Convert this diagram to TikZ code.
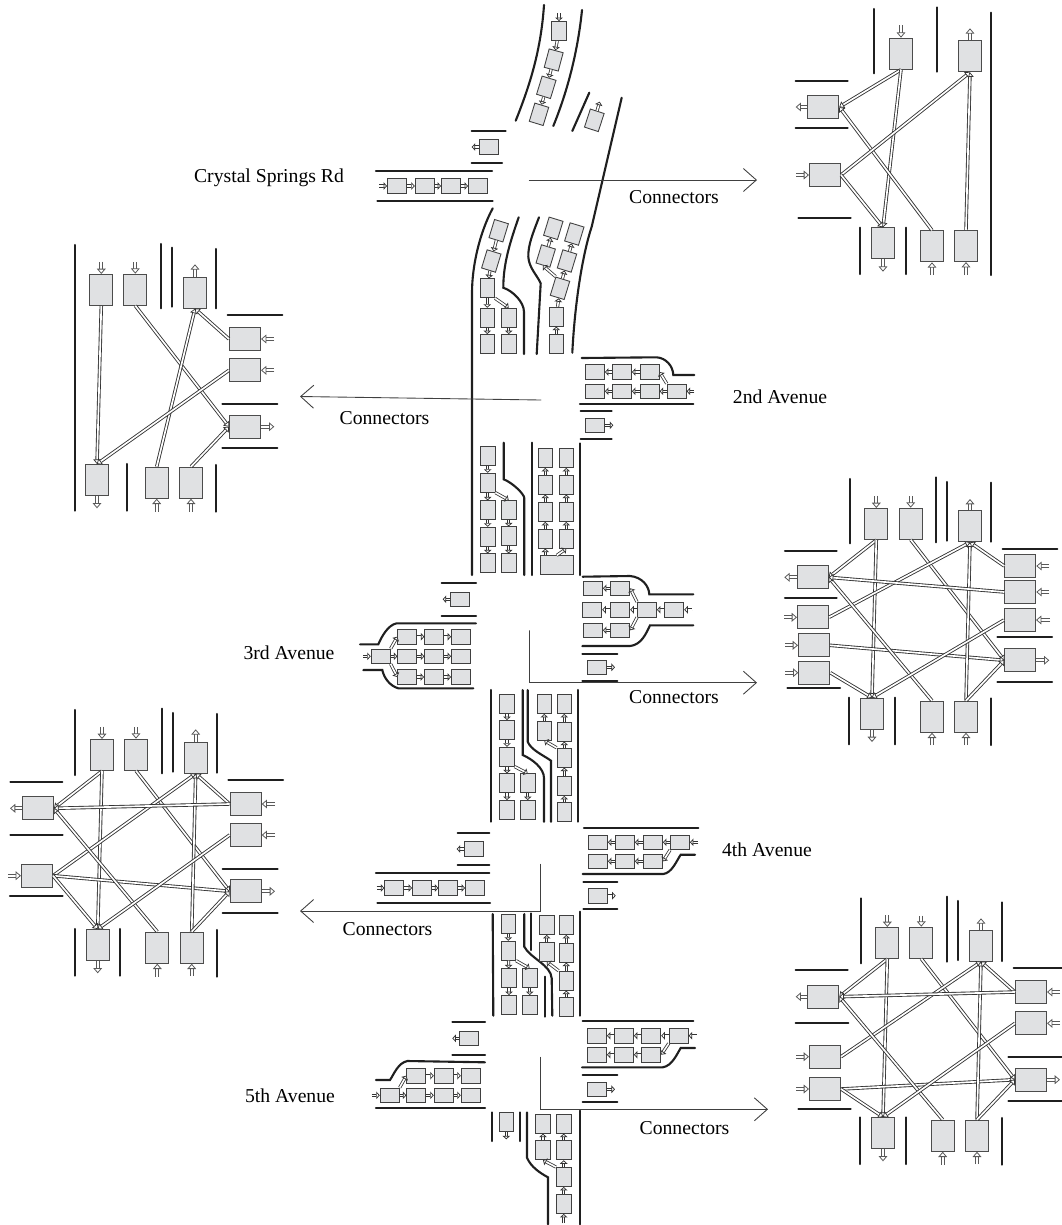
\documentclass[tikz,border=0pt]{standalone}
\usepackage{fontspec}
\setmainfont{Liberation Serif}
\usetikzlibrary{arrows.meta}
\definecolor{cellgray}{HTML}{E0E1E3}
\tikzset{
  cell/.style={draw=black!75,fill=cellgray,line width=.5pt,inner sep=0pt,minimum width=.29cm,minimum height=.38cm},
  hcell/.style={cell,minimum width=.38cm,minimum height=.29cm},
  wcell/.style={cell,minimum width=.67cm,minimum height=.38cm},
  bigcell/.style={cell,draw=black!70,line width=.6pt,minimum width=.46cm,minimum height=.62cm},
  bighcell/.style={bigcell,minimum width=.62cm,minimum height=.46cm},
  road/.style={line width=1.2pt,black!88},
  flow/.style={draw=black!80,line cap=butt,line width=.45pt,double=white,double distance=.9pt,-{Triangle[fill=white,length=2pt,width=4.3pt,line width=.42pt]}},
  stub/.style={flow,draw=black!65,line width=.5pt,double distance=1.15pt,-{Triangle[fill=white,length=3pt,width=5pt,line width=.45pt]}},
  link/.style={draw=black!80,line cap=butt,line width=.5pt,double=white,double distance=.95pt,-{Triangle[fill=white,length=2.6pt,width=4.4pt,line width=.4pt]}},
  conn/.style={line width=.5pt,black!75,-{Straight Barb[length=2.6mm,width=4.6mm,line width=.5pt]}}
}
\begin{document}
\begin{tikzpicture}[x=.02cm,y=-.02cm,line cap=round,font=\fontsize{11.2}{13}\selectfont]
\useasboundingbox (0,0) rectangle (1062,1225);
\foreach \xa/\ya/\xb/\yb in {
  471.7/130.7/505.7/130.7,471.7/163/502/163,376/170.7/492/170.7,377.3/200.7/492.7/200.7,589.3/92.7/572.3/131,
  580/403.7/693.3/403.7,580.7/411.3/611.7/411.3,580.7/438.7/611.7/438.7,531.7/442.7/531.7/575,580/443.3/580/575,
  441.7/583.3/476/583.3,441.7/615.7/476/615.7,582.3/653.7/617.3/653.7,582.3/680.7/617.3/680.7,
  491/690/491/821.7,578.3/690/578.3/821.7,
  584/828/698.3/828,457.7/832.7/489.3/832.7,457.7/865/489.3/865,376/872.7/489.3/872.7,377.3/902.7/490/902.7,
  583.3/881.7/617.3/881.7,583.3/909/617.3/909,492.7/914/493.3/1015.7,580/911.7/580/1015.7,
  530.7/913.3/530.7/950,545.3/976.7/545.3/1016.7,
  582.7/1021.3/693.3/1021.3,452.3/1022/485/1022,452.3/1054.7/485/1054.7,376/1108.3/485/1108.3,
  582.7/1075/617.3/1075,582.7/1102.3/617.3/1102.3,
  492/1112.3/492/1141,520/1112.3/520/1141,580/1110.7/580/1224.3,
  874.3/9/874.3/73.3,936.7/7.3/936.7/71.7,991/12.7/991/275,795.7/80.7/847.7/80.7,795.7/128/847.7/128,798.3/218.3/850.7/218.3,
  860/227.7/860/274,905.7/227.7/905.7/274,
  74.7/245/74.7/510.7,161/244/161/308.3,172.3/247.7/172.3/306.7,216/249/216/308.3,227.7/314.7/282.3/314.7,
  222.3/403.7/277.3/403.7,222.3/448/277.3/448,127/464/127/510.7,216/465/216/511.7,
  849.7/479/849.7/543.3,936/477.3/936/542.3,947.3/482/947.3/540.7,991/482.7/991/541.7,785/551/836.7/551,785/598.3/836.7/598.3,
  787.3/688.3/840/688.3,1002.7/548.7/1057.3/548.7,997.3/637.3/1052/637.3,997.3/681.7/1052/681.7,
  849.3/697.7/849.3/744.3,895/697.7/895/744.3,991/698.3/991/745,
  75/710/75/775,161.7/708.7/161.7/773.3,173/713/173/771.7,216.7/714/216.7/772.7,10.3/782.3/62.3/782.3,10.3/835/62.7/835,10/896.3/62.7/896.3,
  228.3/780/283/780,222.7/868.7/277.7/868.7,222.7/912.7/277.7/912.7,75/929/75/975.7,120.3/929/120.3/975.7,216.7/930/216.7/976.7,
  860.7/898.3/860.7/963.3,947/896.7/947/961.7,958.3/901/958.3/960,1002/902.3/1002/961,795.7/970.3/847.7/970.3,795.7/1023/848.3/1023,
  798.3/1109.3/850.7/1109.3,1013.7/968/1061.7/968,1008.3/1056.7/1061.7/1056.7,1008.3/1100.7/1061.7/1100.7,
  860/1117.3/860/1164,905.7/1117.3/905.7/1164,1002/1118/1002/1164.7}
  \draw[road] (\xa,\ya) -- (\xb,\yb);
\draw[road] (544,5) .. controls (541,50) and (530,85) .. (515.7,120.7);
\draw[road] (582,10) .. controls (578,50) and (568,90) .. (553.3,126);
\draw[road] (621.7,97.7) -- (591.7,226.7) .. controls (583,253) and (575,300) .. (572.3,352.7);
\draw[road] (492.7,208.3) .. controls (480,232) and (472,265) .. (472,293) -- (472,575);
\draw[road] (518.7,217.3) .. controls (509,245) and (503.3,265) .. (503.3,287.7) .. controls (513,291) and (524,302) .. (524,312) -- (524,354);
\draw[road] (539,217.3) .. controls (533,233) and (528,245) .. (528.3,256.7) .. controls (529,268) and (537,275) .. (540.7,283.3) -- (536.7,354);
\draw[road] (581.7,358) -- (656.7,357.3) .. controls (666,358) and (673,366) .. (673.3,375) -- (694.3,375);
\draw[road] (503.7,442.7) -- (503.7,479.3) .. controls (513,483) and (524,494) .. (524.3,498) -- (524.3,575);
\draw[road] (582.7,576.7) -- (630,576) .. controls (642,577) and (649,586) .. (649.3,594.3) -- (693.3,594.3);
\draw[road] (582.3,646) -- (630,646) .. controls (641,645) and (646,634) .. (650,625.3) -- (693.3,625.3);
\draw[road] (476,623.3) -- (396.7,623.3) .. controls (388,625) and (382,636) .. (378.3,644.3) -- (360,644.3);
\draw[road] (473.3,688.3) -- (398.3,688.3) .. controls (390,686) and (384,678) .. (382.3,670) -- (363.3,670);
\draw[road] (522.7,690) -- (522.7,755) .. controls (532,759) and (544,768) .. (544,778) -- (544,821.7);
\draw[road] (527.7,690) -- (527.7,741.7) .. controls (531,750) and (543,755) .. (551,760.7) -- (551,821.7);
\draw[road] (582.7,874) -- (663.3,874) .. controls (672,873) and (677,860) .. (680.7,854.7) -- (695,854.7);
\draw[road] (524.3,914) -- (524.3,946.7) .. controls (530,958) and (551,965) .. (551.7,978.3) -- (552.3,1015.7);
\draw[road] (582,1067.3) -- (662.7,1067.3) .. controls (672,1066) and (677,1054) .. (680.7,1048) -- (695,1048);
\draw[road] (485,1062.3) -- (407.3,1061) .. controls (398,1063) and (394,1074) .. (390,1080) -- (376,1080);
\draw[road] (527,1112.3) -- (527,1157.7) .. controls (531,1167) and (540,1173) .. (548,1177.3) -- (548,1224.3);
\foreach \n/\x/\y/\rot in {
  t1/559/31/0,t2/553.7/60/-15,t3/546.3/87.3/-17,t4/539/114.3/-17,tx/594.3/120.3/-18,
  a1/498.7/230.7/-17,a2/491.3/261/-17,a3/487.3/288.3/0,a4/487.3/317.7/0,a5/487.3/344/0,b4/508.7/317.7/0,b5/508.7/344/0,
  u1/556.3/344/0,u2/556.3/316.7/0,u3/560/288.3/-17,u4/545.7/256/-17,v4/567/261/-17,u5/553.3/228.3/-17,v5/574.3/234/-17,
  d1/487.7/456/0,d2/487.7/482.7/0,d3/487.7/510.3/0,d4/487.7/536.7/0,d5/487.7/563.3/0,e3/508.7/510/0,e4/508.7/536.3/0,e5/508.7/563.3/0,
  f1/545.3/458/0,f2/545.3/484.7/0,f3/545.3/512/0,f4/545.3/538.7/0,g1/566.3/458/0,g2/566.3/484.7/0,g3/566.3/512/0,g4/566.3/538.7/0,
  h1/507/704/0,h2/507/730/0,h3/507/756.7/0,h4/507/783.3/0,h5/507/810/0,i4/527.7/783.3/0,i5/527.7/810/0,
  j1/544.3/704/0,j2/544.3/730.7/0,k1/564.3/704/0,k2/564.3/731.7/0,k3/564.3/757.7/0,k4/564.3/786/0,k5/564.3/812/0,
  l1/508.3/924/0,l2/508.3/950.7/0,l3/509/978.3/0,l4/509/1005/0,m3/529.7/978.3/0,m4/529.7/1005/0,
  n1/546.7/925/0,n2/546.7/951.7/0,o1/566.3/925/0,o2/566.3/952.7/0,o3/566.3/980.7/0,o4/566.3/1006.7/0,
  sx/506.3/1122.3/0,p1/543/1123.7/0,p2/543/1150.3/0,q1/563.7/1123.7/0,q2/563.7/1150.3/0,q3/563.7/1177/0,q4/563.7/1204/0}
  \node[cell,rotate=\rot] (\n) at (\x,\y) {};
\node[wcell] (fb) at (556.8,565.3) {};
\foreach \n/\x/\y in {
  cx/489/147,c1/397/186,c2/424.7/186,c3/451/186,c4/478/186,
  s1/595/372,s2/622/372,s3/649.7/372,r1/595/391.3,r2/622/391.3,r3/649.7/391.3,r4/676.7/391.3,sy/595.3/425.3,
  w1/593/588.3,w2/620.3/588.3,x1/592.3/609.7,x2/620.3/609.7,x3/647/609.7,x4/674.3/609.7,y1/593/630.3,y2/620.3/630.3,wx/596.7/667.3,
  lx/460.3/599.3,la1/407.3/636.7,la2/434.3/636.7,la3/461/636.7,lb0/380.7/656.3,lb1/407.3/656.3,lb2/434.3/656.3,lb3/461/656.3,lc1/407.3/677,lc2/434/677,lc3/461/677,
  fa1/598/842.3,fa2/625/842.3,fa3/653/842.3,fa4/680/842.3,fb1/598/861.3,fb2/625/861.3,fb3/653/861.3,fx/598/895.7,
  gx/474/849,g01/394.3/888,g02/422/888,g03/448.3/888,g04/475/888,
  ha1/597/1035.7,ha2/624/1035.7,ha3/651.3/1035.7,ha4/678.7/1035.7,hb1/597/1054.7,hb2/624/1054.7,hb3/651.3/1054.7,hx/597/1089.3,
  kx/469.3/1038.3,ka1/416.3/1075.7,ka2/443.7/1075.7,ka3/470.7/1075.7,kb0/389.7/1095.3,kb1/416.3/1095.3,kb2/443.7/1095.3,kb3/470.7/1095.3}
  \node[hcell] (\n) at (\x,\y) {};
\foreach \n/\x/\y in {
  AN1/901/53.7,AN3/970/56.3,AS1/883/243.3,AS2/932/246.3,AS3/966/246,
  BN1/101.3/290,BN2/135.3/289.7,BN3/195/292.7,BS1/97/480,BS2/156.7/482.7,BS3/191/482.7,
  CN1/876.3/524,CN2/910.7/523.7,CN3/970/526.3,CS1/872/713.7,CS2/932/716.7,CS3/966/716.7,
  DN1/102/755,DN2/136/754.7,DN3/195.7/757.7,DS1/97.7/945,DS2/157.3/947.7,DS3/191.7/947.7,
  EN1/887.3/943,EN2/921.3/942.7,EN3/981/945.7,ES1/883/1133,ES2/942.7/1135.7,ES3/977/1135.7}
  \node[bigcell] (\n) at (\x,\y) {};
\foreach \n/\x/\y in {
  AW1/823.3/107,AW2/825/175,
  BE1/245/339,BE2/245/370.3,BE3/245/426.7,
  CW1/812.7/577.3,CW2/813/617.3,CW3/814/645.3,CW4/814.3/672.7,CE1/1020.3/566,CE2/1020.3/592,CE3/1020/620,CE4/1020.3/660.3,
  DW1/38/808.3,DW2/37/875.7,DE1/245.7/804,DE2/245.7/835,DE3/245.7/891.3,
  EW1/823.3/996.7,EW2/825/1056.7,EW3/825/1089,EE1/1031/992,EE2/1031/1023.3,EE3/1031/1079.7}
  \node[bighcell] (\n) at (\x,\y) {};
\foreach \p/\q in {
  t1/t2,t2/t3,t3/t4,c1/c2,c2/c3,c3/c4,a1/a2,a2/a3,a3/a4,a4/a5,a3.south east/b4.north,b4/b5,u1/u2,u2/u3,u3.north west/u4.south,u3/v4,u4/u5,v4/v5,
  r4/r3,r3/r2,r2/r1,r4.north west/s3.east,s3/s2,s2/s1,d1/d2,d2/d3,d3/d4,d4/d5,d2.south east/e3.north,e3/e4,e4/e5,
  fb.north/g4.south,f4/f3,f3/f2,f2/f1,g4/g3,g3/g2,g2/g1,
  x4/x3,x3/x2,x2/x1,x3.north west/w2.east,x3.south west/y2.east,w2/w1,y2/y1,
  lb0/lb1,lb1/lb2,lb2/lb3,lb0.north east/la1.west,la1/la2,la2/la3,lb0.south east/lc1.west,lc1/lc2,lc2/lc3,
  h1/h2,h2/h3,h3/h4,h4/h5,h3.south east/i4.north,i4/i5,k5/k4,k4/k3,k3/k2,k2/k1,k3.north west/j2.south,j2/j1,
  fa4/fa3,fa3/fa2,fa2/fa1,fa4.south west/fb3.east,fb3/fb2,fb2/fb1,g01/g02,g02/g03,g03/g04,
  l1/l2,l2/l3,l3/l4,l2.south east/m3.north,m3/m4,o4/o3,o3/o2,o2/o1,o3.north west/n2.south,n2/n1,
  ha4/ha3,ha3/ha2,ha2/ha1,ha4.south west/hb3.east,hb3/hb2,hb2/hb1,
  kb0/kb1,kb1/kb2,kb2/kb3,kb0.north east/ka1.west,ka1/ka2,ka2/ka3,
  q4/q3,q3/q2,q2/q1,q3.north west/p2.south,p2/p1}
  \draw[flow] (\p) -- (\q);
\draw[flow] (fb.north -| f4) -- (f4);
\foreach \n/\x/\y in {t1/559/13.3,c1/379/186,r4/694.3/391.3,x4/692.3/609.7,lb0/363.3/656.3,fa4/698.3/842.3,g01/376.7/888,ha4/696.7/1035.7,kb0/371.7/1095.3,q4/563.7/1223.3} {
  \coordinate (\n-in) at (\x,\y);
  \draw[flow] (\n-in) -- (\n);
}
\foreach \n/\x/\y in {tx/599.7/101.7,cx/471.7/147,sy/613.3/425.3,wx/615/667.3,lx/442.7/599.3,fx/615.7/895.7,gx/456.7/849,hx/615/1089.3,kx/452.3/1038.3,sx/506.3/1139.3} {
  \coordinate (\n-out) at (\x,\y);
  \draw[flow] (\n) -- (\n-out);
}
\foreach \n/\x/\y in {
  AN1/901/25,AW2/796/175,AS2/932/275,AS3/966/275,
  BN1/101.3/261.7,BN2/135.3/262.3,BE1/274.3/339,BE2/274.3/370.3,BS2/156.7/511.7,BS3/191/511.7,
  CN1/876.3/495.7,CN2/910.7/496.3,CW2/784.3/617.3,CW3/785/645.3,CW4/785.3/672.7,CE1/1049.3/566,CE2/1049.3/592,CE3/1050/620,CS2/932/745.3,CS3/966/745,
  DN1/102/726.7,DN2/136/727.3,DW2/8.3/875.7,DE1/275/804,DE2/275/835,DS2/157.3/976.7,DS3/191.7/976,
  EN1/887.3/915,EN2/921.3/915.7,EW2/796/1056.7,EW3/796/1089,EE1/1060/992,EE2/1060/1023.3,ES2/942.7/1164.7,ES3/977/1164} {
  \coordinate (\n-in) at (\x,\y);
  \draw[stub] (\n-in) -- (\n);
}
\foreach \n/\x/\y in {
  AN3/970/28.3,AW1/795.7/107,AS1/883/271.7,
  BN3/195/264.3,BE3/274.3/426.7,BS1/97/508.3,
  CN3/970/499,CW1/784.3/577.3,CE4/1049.3/660.3,CS1/872/742,
  DN3/195.7/729.3,DW1/10/808.3,DE3/275/891.3,DS1/97.7/973.3,
  EN3/981/918.3,EW1/795.7/996.7,EE3/1060/1079.7,ES1/883/1161.3} {
  \coordinate (\n-out) at (\x,\y);
  \draw[stub] (\n) -- (\n-out);
}
\foreach \p/\q in {
  AN1.south/AW1.east,AN1.south/AS1.north,AS2.north/AW1.east,AS3.north/AN3.south,AW2.east/AN3.south,AW2.east/AS1.north,
  BN1.south/BS1.north,BN2.south/BE3.west,BS2.north/BN3.south,BE1.west/BN3.south,BE2.west/BS1.north,BS3.north/BE3.west,
  CN1.south/CW1.east,CN1.south/CS1.north,CN2.south/CE4.west,CW2.east/CN3.south,CW3.east/CE4.west,CW4.east/CS1.north,
  CS2.north/CW1.east,CS3.north/CN3.south,CS3.north/CE4.west,CE1.west/CN3.south,CE2.west/CW1.east,CE3.west/CS1.north,
  DN1.south/DW1.east,DN1.south/DS1.north,DN2.south/DE3.west,DW2.east/DN3.south,DW2.east/DE3.west,DW2.east/DS1.north,
  DS2.north/DW1.east,DS3.north/DN3.south,DS3.north/DE3.west,DE1.west/DN3.south,DE1.west/DW1.east,DE2.west/DS1.north,
  EN1.south/EW1.east,EN1.south/ES1.north,EN2.south/EE3.west,EW2.east/EN3.south,EW3.east/EE3.west,EW3.east/ES1.north,
  ES2.north/EW1.east,ES3.north/EN3.south,ES3.north/EE3.west,EE1.west/EN3.south,EE1.west/EW1.east,EE2.west/ES1.north}
  \draw[link] (\p) -- (\q);
\coordinate (con1a) at (529.3,180);
\coordinate (con1b) at (757,180);
\coordinate (con2a) at (541,400);
\coordinate (con2b) at (300,396.5);
\coordinate (con3a) at (529.3,630.7);
\coordinate (con3b) at (757,682.7);
\coordinate (con4a) at (540,864.3);
\coordinate (con4b) at (300,911);
\coordinate (con5a) at (540,1057.3);
\coordinate (con5b) at (768,1109.3);
\draw[conn] (con1a) -- (con1b);
\draw[conn] (con2a) -- (con2b);
\draw[conn] (con3a) |- (con3b);
\draw[conn] (con4a) |- (con4b);
\draw[conn] (con5a) |- (con5b);
\node (lab1) at (674,197) {Connectors};
\node (lab2) at (384.5,418) {Connectors};
\node (lab3) at (674,697) {Connectors};
\node (lab4) at (387.5,929) {Connectors};
\node (lab5) at (684.5,1128) {Connectors};
\node (crystal) at (269,178) {Crystal Springs Rd};
\node (second) at (780,397) {2nd Avenue};
\node (third) at (289,653) {3rd Avenue};
\node (fourth) at (767,850) {4th Avenue};
\node (fifth) at (290,1096) {5th Avenue};
\end{tikzpicture}
\end{document}
